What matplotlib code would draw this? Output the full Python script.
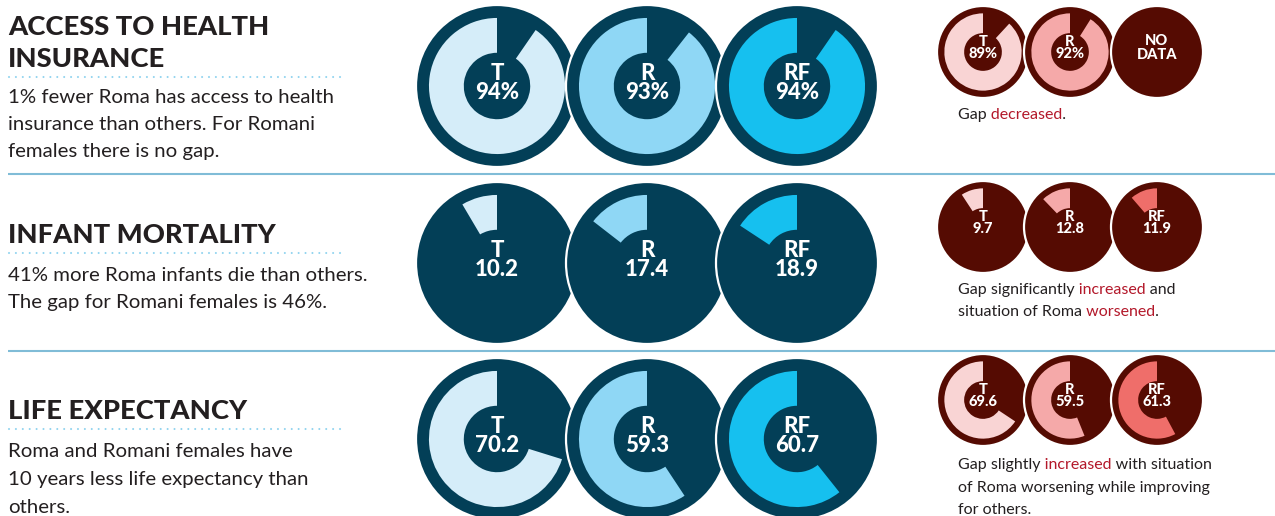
import matplotlib
matplotlib.use("Agg")
import matplotlib.pyplot as plt
from matplotlib.patches import Circle, Wedge
from matplotlib.font_manager import FontProperties, findfont, get_font
from matplotlib.transforms import Bbox, TransformedBbox

# ---------------- data ----------------
groups = ["T", "R", "RF"]
health_now = [94, 93, 94]
health_before = [89, 92, None]
infant_now = [10.2, 17.4, 18.9]
infant_before = [9.7, 12.8, 11.9]
life_now = [70.2, 59.3, 60.7]
life_before = [69.6, 59.5, 61.3]

titles = [["ACCESS TO HEALTH", "INSURANCE"], ["INFANT MORTALITY"], ["LIFE EXPECTANCY"]]
bodies = [
    ["1% fewer Roma has access to health", "insurance than others. For Romani", "females there is no gap."],
    ["41% more Roma infants die than others.", "The gap for Romani females is 46%."],
    ["Roma and Romani females have", "10 years less life expectancy than", "others."],
]
notes = [
    [[("Gap ", "k"), ("decreased", "r"), (".", "k")]],
    [[("Gap significantly ", "k"), ("increased", "r"), (" and", "k")],
     [("situation of Roma ", "k"), ("worsened", "r"), (".", "k")]],
    [[("Gap slightly ", "k"), ("increased", "r"), (" with situation", "k")],
     [("of Roma worsening while improving", "k")],
     [("for others.", "k")]],
]

# ---------------- style ----------------
NAVY = "#033f57"
BLUES = ["#d5edf9", "#8fd7f5", "#16c0ef"]
DRED = "#550b02"
PINKS = ["#f9d4d4", "#f5a9a9", "#ef6e6a"]
TXT = "#231f20"
HIL = "#b3182a"
LINE = "#80bcd7"
DOTS = "#8fd3ef"
FONT = ["Lato", "DejaVu Sans"]
DPI = 100

fig = plt.figure(figsize=(12.75, 5.16), dpi=DPI)
ax = fig.add_axes([0, 0, 1, 1])
ax.set_xlim(0, 1275)
ax.set_ylim(516, 0)
ax.axis("off")

row_y_big = [86, 263, 439]
row_y_small = [52, 227, 400]
big_x0, big_dx, big_r = 497, 150, 81
small_x0, small_dx, small_r = 983, 87, 46
scale_big = [104, 120, 100]
scale_small = [101, 105, 106]


def donut(cx, cy, R, value, scale, fill, bg, label, fs, dy, inner=0.41, outer=0.84):
    ax.add_patch(Circle((cx, cy), R, fc=bg, ec="white", lw=1.6, zorder=2))
    if value is None:
        ax.text(cx, cy + dy, "NO\nDATA", color="white", fontsize=fs, fontweight="black",
                ha="center", va="center", family=FONT, linespacing=0.95, zorder=4)
        return
    frac = value / scale
    ax.add_patch(Wedge((cx, cy), R * outer, -90 - 360 * frac, -90,
                       width=R * (outer - inner), fc=fill, ec="none", zorder=3))
    ax.text(cx, cy + dy, label, color="white", fontsize=fs, fontweight="black",
            ha="center", va="center", family=FONT, linespacing=0.88, zorder=4)


rows_now = [health_now, infant_now, life_now]
rows_before = [health_before, infant_before, life_before]
fmts = ["{:.0f}%", "{:.1f}", "{:.1f}"]

for r in range(3):
    for i, g in enumerate(groups):
        v = rows_now[r][i]
        donut(big_x0 + big_dx * i, row_y_big[r], big_r, v, scale_big[r], BLUES[i], NAVY,
              g + "\n" + fmts[r].format(v), 16, -3)
    for i, g in enumerate(groups):
        v = rows_before[r][i]
        lab = None if v is None else g + "\n" + fmts[r].format(v)
        donut(small_x0 + small_dx * i, row_y_small[r], small_r, v, scale_small[r], PINKS[i], DRED,
              lab, 10.5, -4)

# separators
for y in [174, 351]:
    ax.plot([8, 1275], [y, y], color=LINE, lw=1.5, solid_capstyle="butt", zorder=1)

# dotted lines under titles
for y in [77, 253, 429]:
    ax.plot([9, 342], [y, y], color=DOTS, lw=1.5, linestyle=(0, (0.01, 3.3)),
            dash_capstyle="round", zorder=1)

# titles
title_base = [[35, 67], [243], [419]]
for r in range(3):
    for t, yb in zip(titles[r], title_base[r]):
        ax.text(8, yb, t, color=TXT, fontsize=19.7, fontweight="black", family=FONT,
                ha="left", va="baseline")

# body text
body_base = [[103, 130, 157], [281, 308], [457, 485, 513]]
for r in range(3):
    for t, yb in zip(bodies[r], body_base[r]):
        ax.text(8, yb, t, color=TXT, fontsize=14.7, family=FONT, ha="left", va="baseline")

# notes with highlighted words: the whole line is drawn once per colour,
# each copy clipped to the horizontal span of its segment
note_base = [[119], [294, 316], [469, 492, 514]]
NFS = 11.5

_font = get_font(findfont(FontProperties(family=FONT)))
_font.set_size(NFS, DPI)


def advance(s):
    total = 0.0
    for ch in s:
        g = _font.load_char(ord(ch))
        total += g.linearHoriAdvance / 65536.0
    return total


def rich_line(x, y, segs):
    full = "".join(s for s, _ in segs)
    prefix = ""
    for k, (s, c) in enumerate(segs):
        col = HIL if c == "r" else TXT
        x0 = x - 10 if k == 0 else x + advance(prefix)
        prefix += s
        x1 = x + 1000 if k == len(segs) - 1 else x + advance(prefix)
        t = ax.text(x, y, full, color=col, fontsize=NFS, family=FONT,
                    ha="left", va="baseline")
        t.set_clip_box(TransformedBbox(Bbox([[x0, y - 25], [x1, y + 10]]), ax.transData))
        t.set_clip_on(True)


for r in range(3):
    for segs, yb in zip(notes[r], note_base[r]):
        rich_line(958, yb, segs)

fig.savefig("out.png", dpi=DPI, facecolor="white")
